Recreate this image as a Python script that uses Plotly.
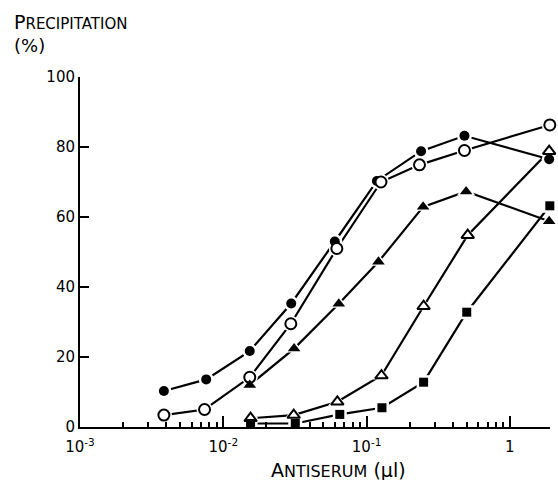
import plotly.graph_objects as go

# Data
x_fc = [0.00385, 0.0076, 0.0153, 0.0298, 0.0600, 0.118, 0.240, 0.482, 1.88]
y_fc = [10.3, 13.6, 21.7, 35.3, 53.0, 70.3, 78.8, 83.2, 76.5]

x_oc = [0.00385, 0.0074, 0.0153, 0.0296, 0.0620, 0.126, 0.234, 0.482, 1.90]
y_oc = [3.4, 5.0, 14.2, 29.5, 51.0, 70.0, 74.9, 79.0, 86.3]

x_ft = [0.0153, 0.0312, 0.0640, 0.121, 0.248, 0.495, 1.88]
y_ft = [12.0, 22.4, 35.2, 47.2, 62.9, 67.3, 58.8]

x_ot = [0.0155, 0.0310, 0.0625, 0.127, 0.250, 0.508, 1.88]
y_ot = [2.5, 3.4, 7.2, 14.7, 34.5, 54.8, 78.8]

x_fs = [0.0155, 0.0318, 0.0650, 0.128, 0.250, 0.500, 1.90]
y_fs = [1.0, 1.0, 3.6, 5.5, 12.8, 32.8, 63.2]

series = [
    (x_fc, y_fc, "circle", 10, "black", 0),
    (x_oc, y_oc, "circle", 11, "white", 2),
    (x_ft, y_ft, "triangle-up", 11, "black", 0),
    (x_ot, y_ot, "triangle-up", 11, "white", 2),
    (x_fs, y_fs, "square", 9, "black", 0),
]

major_vals = [0.001, 0.01, 0.1, 1]
major_text = ["10<sup>-3</sup>", "10<sup>-2</sup>", "10<sup>-1</sup>", "1"]
minor_vals = [k * 10.0 ** e for e in range(-3, 1) for k in range(2, 10)]
y_ticks = [0, 20, 40, 60, 80, 100]

FONT = "DejaVu Sans"

fig = go.Figure()

# lines first
for xs, ys, sym, sz, fill, lw in series:
    fig.add_trace(go.Scatter(x=xs, y=ys, mode="lines",
                             line=dict(color="black", width=2.2),
                             cliponaxis=False, showlegend=False, hoverinfo="skip"))
# white halos to create gaps
for xs, ys, sym, sz, fill, lw in series:
    fig.add_trace(go.Scatter(x=xs, y=ys, mode="markers",
                             marker=dict(symbol=sym, size=sz + 5, color="white",
                                         line=dict(width=0)),
                             cliponaxis=False, showlegend=False, hoverinfo="skip"))
# markers
for xs, ys, sym, sz, fill, lw in series:
    fig.add_trace(go.Scatter(x=xs, y=ys, mode="markers",
                             marker=dict(symbol=sym, size=sz, color=fill,
                                         line=dict(color="black", width=lw)),
                             cliponaxis=False, showlegend=False))

fig.update_layout(
    width=558, height=480,
    margin=dict(l=80, r=8, t=77, b=53),
    paper_bgcolor="white", plot_bgcolor="white",
    font=dict(family=FONT, color="black", size=14),
    xaxis=dict(type="log", range=[-3, 0.28],
               showgrid=False, zeroline=False,
               showline=True, linecolor="black", linewidth=2,
               ticks="inside", ticklen=11, tickwidth=1.5, tickcolor="black",
               tickmode="array", tickvals=major_vals, ticktext=major_text,
               tickfont=dict(size=15), ticklabelstandoff=5,
               minor=dict(ticks="inside", ticklen=5, tickwidth=1.5, tickcolor="black",
                          tickmode="array", tickvals=minor_vals, showgrid=False)),
    yaxis=dict(range=[0, 100],
               showgrid=False, zeroline=False,
               showline=True, linecolor="black", linewidth=2,
               ticks="inside", ticklen=9, tickwidth=1.5, tickcolor="black",
               tickmode="array", tickvals=y_ticks,
               ticktext=[str(v) for v in y_ticks],
               tickfont=dict(size=15), ticklabelstandoff=0),
    annotations=[
        dict(text="P<span style='font-size:15px'>RECIPITATION</span>",
             xref="paper", yref="paper", x=-0.1447, y=1.157,
             xanchor="left", yanchor="middle", showarrow=False,
             font=dict(size=19, family=FONT)),
        dict(text="(%)", xref="paper", yref="paper", x=-0.1447, y=1.091,
             xanchor="left", yanchor="middle", showarrow=False,
             font=dict(size=18, family=FONT)),
        dict(text="A<span style='font-size:16px'>NTISERUM</span> (µl)",
             xref="paper", yref="paper", x=0.551, y=-0.123,
             xanchor="center", yanchor="middle", showarrow=False,
             font=dict(size=19, family=FONT)),
    ],
)

fig.write_html("out.html")
